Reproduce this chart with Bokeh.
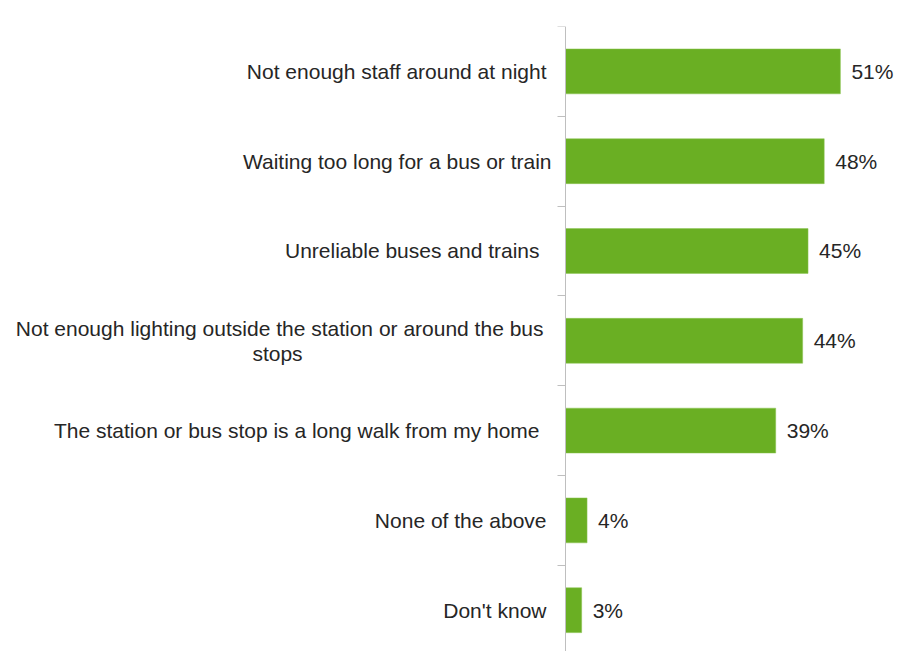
from bokeh.plotting import figure
from bokeh.models import Range1d, ColumnDataSource, FixedTicker, LinearAxis
from bokeh.core.properties import value
from bokeh.embed import file_html
from bokeh.resources import INLINE

categories = [
    "Not enough staff around at night",
    "Waiting too long for a bus or train",
    "Unreliable buses and trains",
    "Not enough lighting outside the station or around the bus",
    "The station or bus stop is a long walk from my home",
    "None of the above",
    "Don't know",
]
second_lines = ["", "", "", "stops", "", "", ""]
values = [51, 48, 45, 44, 39, 4, 3]
value_labels = ["51%", "48%", "45%", "44%", "39%", "4%", "3%"]

# style: horizontal pixel offset of each category label from the axis
label_offsets = [-19, -14, -26, -22, -26, -19, -19]

n = len(categories)
ys = [n - 1 - i for i in range(n)]

FONT = "Liberation Sans"
TXT = "#262626"
FS = "21px"
PX_PER_UNIT = 5.39

p = figure(width=897, height=651, output_backend="svg", toolbar_location=None,
           x_range=Range1d(-565 / PX_PER_UNIT, 332 / PX_PER_UNIT),
           y_range=Range1d(-0.46, 6.5),
           min_border_left=0, min_border_right=0, min_border_top=26,
           min_border_bottom=0, y_axis_location=None, x_axis_location=None)
p.outline_line_color = None
p.grid.visible = False
p.background_fill_color = "white"
p.border_fill_color = "white"

yax = LinearAxis(fixed_location=0)
yax.ticker = FixedTicker(ticks=[k + 0.5 for k in range(-1, n)])
yax.major_label_text_font_size = "0px"
yax.major_label_text_alpha = 0
yax.axis_line_color = "#bfbfbf"
yax.major_tick_line_color = "#bfbfbf"
yax.major_tick_out = 8
yax.major_tick_in = 0
yax.minor_tick_line_color = None
p.add_layout(yax, "left")

src = ColumnDataSource(dict(y=ys, v=values, lab=value_labels))
p.hbar(y="y", left=0, right="v", height=0.5, source=src,
       fill_color="#6AAF23", line_color="#8cc455", line_width=0.5)

p.text(x="v", y="y", text="lab", source=src, x_offset=11,
       text_align="left", text_baseline="middle",
       text_font=value(FONT), text_font_size=FS, text_color=TXT)

single = [k for k in range(n) if not second_lines[k]]
multi = [k for k in range(n) if second_lines[k]]

src1 = ColumnDataSource(dict(y=[ys[k] for k in single],
                             cat=[categories[k] for k in single],
                             off=[label_offsets[k] for k in single],
                             zero=[0] * len(single)))
p.text(x="zero", y="y", text="cat", source=src1, x_offset="off",
       text_align="right", text_baseline="middle",
       text_font=value(FONT), text_font_size=FS, text_color=TXT)

src2 = ColumnDataSource(dict(y=[ys[k] for k in multi],
                             cat=[categories[k] for k in multi],
                             l2=[second_lines[k] for k in multi],
                             off=[label_offsets[k] for k in multi],
                             zero=[0] * len(multi)))
p.text(x="zero", y="y", text="cat", source=src2, x_offset="off", y_offset=-12,
       text_align="right", text_baseline="middle",
       text_font=value(FONT), text_font_size=FS, text_color=TXT)
p.text(x="zero", y="y", text="l2", source=src2, x_offset=-288, y_offset=13,
       text_align="center", text_baseline="middle",
       text_font=value(FONT), text_font_size=FS, text_color=TXT)

open("out.html", "w").write(file_html(p, INLINE))
